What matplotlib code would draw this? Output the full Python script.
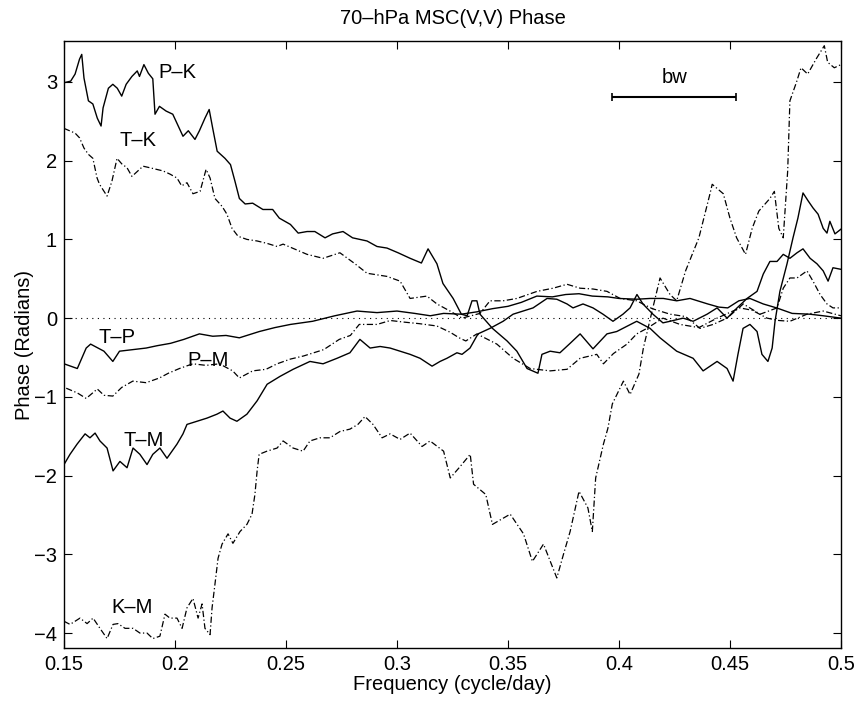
import numpy as np
import matplotlib
matplotlib.use("Agg")
import matplotlib.pyplot as plt

plt.rcParams['font.family'] = ['Liberation Sans', 'DejaVu Sans']

# phase spectra (frequency, radians) for each pair
f_pk = [0.15, 0.153, 0.155, 0.157, 0.158, 0.159, 0.161, 0.163, 0.165, 0.1667, 0.1676, 0.17, 0.172, 0.174,
        0.176, 0.178, 0.1806, 0.183, 0.184, 0.186, 0.188, 0.19, 0.191, 0.193, 0.196, 0.199, 0.2036, 0.206,
        0.209, 0.211, 0.2135, 0.2154, 0.217, 0.219, 0.2225, 0.225, 0.227, 0.229, 0.2316, 0.235, 0.2396,
        0.244, 0.247, 0.252, 0.2555, 0.2595, 0.263, 0.2676, 0.271, 0.2757, 0.28, 0.2865, 0.291, 0.2955,
        0.3005, 0.3059, 0.311, 0.314, 0.318, 0.3207, 0.3253, 0.329, 0.3316, 0.3338, 0.336, 0.3374, 0.343,
        0.3496, 0.354, 0.3586, 0.3635, 0.3653, 0.369, 0.3734, 0.378, 0.3825, 0.3883, 0.3946, 0.399, 0.408,
        0.414, 0.4185, 0.426, 0.4334, 0.4379, 0.4442, 0.4487, 0.4514, 0.4536, 0.4559, 0.459, 0.4622,
        0.4644, 0.4671, 0.469, 0.4703, 0.4725, 0.4757, 0.4784, 0.4806, 0.4829, 0.4852, 0.4874, 0.4897,
        0.492, 0.4937, 0.495, 0.4973, 0.5]
p_pk = [2.99, 3.01, 3.1, 3.29, 3.35, 3.05, 2.76, 2.72, 2.54, 2.44, 2.67, 2.92, 2.97, 2.92,
        2.82, 2.97, 3.07, 3.14, 3.07, 3.22, 3.11, 3.04, 2.59, 2.69, 2.63, 2.59, 2.31, 2.38,
        2.27, 2.38, 2.54, 2.65, 2.41, 2.12, 2.03, 1.95, 1.74, 1.52, 1.45, 1.46, 1.38,
        1.38, 1.27, 1.19, 1.08, 1.1, 1.1, 1.02, 1.07, 1.1, 1.02, 0.98, 0.91, 0.89,
        0.83, 0.76, 0.7, 0.88, 0.69, 0.44, 0.25, 0.05, 0.03, 0.22, 0.22, 0.05, -0.13,
        -0.29, -0.42, -0.64, -0.7, -0.46, -0.42, -0.44, -0.32, -0.2, -0.39, -0.2, -0.17, -0.04,
        -0.13, -0.25, -0.42, -0.51, -0.67, -0.55, -0.64, -0.8, -0.46, -0.13, -0.08, -0.17,
        -0.46, -0.55, -0.38, -0.04, 0.34, 0.69, 1.02, 1.27, 1.59, 1.49, 1.4, 1.32,
        1.14, 1.08, 1.23, 1.07, 1.13]

f_tk = [0.15, 0.155, 0.157, 0.159, 0.161, 0.163, 0.1649, 0.166, 0.1694, 0.1716, 0.1739, 0.176, 0.1784,
        0.1806, 0.1856, 0.1887, 0.1946, 0.1977, 0.2009, 0.203, 0.2054, 0.2081, 0.2113, 0.214, 0.2158,
        0.218, 0.2212, 0.2234, 0.2257, 0.2284, 0.2324, 0.237, 0.2414, 0.246, 0.2487, 0.2595, 0.2667,
        0.2743, 0.2811, 0.2865, 0.2955, 0.3014, 0.3059, 0.3135, 0.318, 0.3239, 0.3293, 0.3374, 0.3419,
        0.3478, 0.354, 0.3631, 0.3703, 0.3766, 0.3825, 0.3883, 0.3946, 0.4005, 0.408, 0.415, 0.423,
        0.43, 0.4365, 0.4424, 0.4487, 0.456, 0.4636, 0.4712, 0.474, 0.477, 0.4802, 0.4847, 0.4874,
        0.4906, 0.4937, 0.4964, 0.5]
p_tk = [2.41, 2.35, 2.29, 2.16, 2.08, 2.03, 1.78, 1.7, 1.55, 1.74, 2.03, 1.96, 1.91,
        1.8, 1.93, 1.91, 1.87, 1.83, 1.78, 1.68, 1.72, 1.58, 1.61, 1.89, 1.78,
        1.52, 1.42, 1.32, 1.14, 1.04, 1.0, 0.98, 0.95, 0.91, 0.94, 0.81, 0.76,
        0.83, 0.69, 0.57, 0.53, 0.47, 0.25, 0.28, 0.18, 0.09, 0.0, 0.06, 0.22,
        0.22, 0.25, 0.34, 0.38, 0.43, 0.38, 0.37, 0.34, 0.25, 0.22, 0.12, 0.05,
        0.02, -0.13, -0.08, 0.0, 0.18, 0.05, 0.13, 0.38, 0.51, 0.51, 0.6, 0.47,
        0.3, 0.18, 0.13, 0.13]

f_tp = [0.15, 0.156, 0.16, 0.162, 0.168, 0.172, 0.175, 0.181, 0.187, 0.192, 0.198, 0.204, 0.211, 0.217,
        0.223, 0.229, 0.238, 0.245, 0.252, 0.262, 0.272, 0.282, 0.291, 0.3, 0.308, 0.315, 0.321, 0.329,
        0.336, 0.343, 0.35, 0.356, 0.363, 0.37, 0.376, 0.382, 0.388, 0.395, 0.4, 0.408, 0.414, 0.42,
        0.426, 0.432, 0.44, 0.445, 0.449, 0.454, 0.459, 0.465, 0.471, 0.478, 0.486, 0.492, 0.5]
p_tp = [-0.58, -0.64, -0.38, -0.33, -0.42, -0.55, -0.42, -0.4, -0.38, -0.35, -0.32, -0.27, -0.2, -0.23,
        -0.22, -0.25, -0.17, -0.12, -0.08, -0.04, 0.03, 0.09, 0.07, 0.09, 0.06, 0.03, 0.06, 0.05,
        0.08, 0.12, 0.15, 0.2, 0.28, 0.27, 0.3, 0.31, 0.28, 0.27, 0.25, 0.24, 0.25, 0.25,
        0.22, 0.25, 0.18, 0.14, 0.13, 0.22, 0.25, 0.18, 0.13, 0.06, 0.05, 0.03, 0.0]

f_pm = [0.151, 0.156, 0.16, 0.165, 0.168, 0.172, 0.176, 0.181, 0.187, 0.193, 0.197, 0.202, 0.208, 0.214,
        0.22, 0.226, 0.229, 0.235, 0.241, 0.246, 0.252, 0.258, 0.267, 0.274, 0.279, 0.283, 0.291, 0.297,
        0.303, 0.31, 0.318, 0.324, 0.328, 0.331, 0.336, 0.345, 0.3523, 0.36, 0.369, 0.3766, 0.3825,
        0.39, 0.393, 0.3975, 0.4036, 0.408, 0.4126, 0.4198, 0.4275, 0.436, 0.4442, 0.4545, 0.46, 0.4667,
        0.472, 0.477, 0.4847, 0.492, 0.5]
p_pm = [-0.89, -0.95, -1.02, -0.9, -0.98, -0.99, -0.88, -0.8, -0.82, -0.76, -0.7, -0.64, -0.58, -0.6,
        -0.58, -0.67, -0.76, -0.67, -0.65, -0.58, -0.52, -0.48, -0.4, -0.27, -0.22, -0.08, -0.08, -0.03,
        -0.05, -0.07, -0.1, -0.18, -0.25, -0.29, -0.2, -0.33, -0.51, -0.64, -0.67, -0.65, -0.51,
        -0.46, -0.58, -0.45, -0.33, -0.2, -0.13, 0.0, -0.08, -0.12, 0.0, 0.13, 0.1, 0.0,
        -0.03, -0.04, 0.05, 0.09, 0.03]

f_tm = [0.15, 0.1527, 0.1559, 0.1595, 0.1617, 0.164, 0.1662, 0.1694, 0.1721, 0.1752, 0.1784, 0.1811,
        0.1842, 0.1874, 0.19, 0.1932, 0.1964, 0.2009, 0.2036, 0.2054, 0.2099, 0.2144, 0.2189, 0.2216,
        0.2248, 0.2279, 0.2324, 0.237, 0.2415, 0.2473, 0.2532, 0.2608, 0.2667, 0.273, 0.2788, 0.2833,
        0.2879, 0.2924, 0.2969, 0.3014, 0.3059, 0.3104, 0.3158, 0.3194, 0.3225, 0.327, 0.3293, 0.3329,
        0.3365, 0.3419, 0.3478, 0.3523, 0.3568, 0.3613, 0.3676, 0.372, 0.3766, 0.3793, 0.3838, 0.3883,
        0.3928, 0.3973, 0.4018, 0.405, 0.4081, 0.4108, 0.4153, 0.4198, 0.423, 0.4289, 0.4334, 0.4397,
        0.4442, 0.4487, 0.4532, 0.4577, 0.4622, 0.465, 0.468, 0.4712, 0.474, 0.477, 0.4802, 0.4829,
        0.4861, 0.4892, 0.492, 0.4942, 0.4964, 0.5]
p_tm = [-1.86, -1.73, -1.6, -1.47, -1.52, -1.46, -1.56, -1.65, -1.94, -1.82, -1.9, -1.65,
        -1.73, -1.86, -1.73, -1.65, -1.78, -1.6, -1.47, -1.35, -1.31, -1.27, -1.22, -1.18,
        -1.27, -1.31, -1.22, -1.05, -0.84, -0.74, -0.65, -0.55, -0.58, -0.51, -0.44, -0.27,
        -0.38, -0.36, -0.38, -0.42, -0.46, -0.51, -0.61, -0.55, -0.51, -0.44, -0.46, -0.38,
        -0.2, -0.13, -0.04, 0.05, 0.09, 0.13, 0.25, 0.24, 0.18, 0.13, 0.18, 0.13,
        0.05, -0.04, 0.05, 0.13, 0.3, 0.18, 0.05, -0.06, -0.04, 0.0, -0.04, 0.05,
        0.13, 0.0, 0.13, 0.25, 0.34, 0.56, 0.72, 0.72, 0.81, 0.76, 0.83, 0.88,
        0.76, 0.69, 0.6, 0.47, 0.64, 0.62]

f_km = [0.15, 0.1527, 0.155, 0.1572, 0.1604, 0.1631, 0.1662, 0.1694, 0.1721, 0.1743, 0.1775, 0.1811,
        0.1842, 0.1874, 0.19, 0.1932, 0.1955, 0.1977, 0.2009, 0.2032, 0.2054, 0.2081, 0.2104, 0.2122,
        0.2135, 0.2158, 0.2167, 0.218, 0.2194, 0.2212, 0.2239, 0.2261, 0.2293, 0.2324, 0.2347, 0.236,
        0.237, 0.2379, 0.2414, 0.246, 0.2487, 0.2532, 0.2577, 0.2608, 0.2653, 0.2698, 0.2743, 0.2788,
        0.2824, 0.2856, 0.2892, 0.2933, 0.2969, 0.3014, 0.3059, 0.3113, 0.3149, 0.321, 0.324, 0.328,
        0.333, 0.3345, 0.34, 0.343, 0.351, 0.357, 0.361, 0.366, 0.372, 0.375, 0.378, 0.382, 0.386,
        0.388, 0.3895, 0.393, 0.395, 0.397, 0.402, 0.405, 0.409, 0.411, 0.415, 0.4185, 0.423, 0.426,
        0.43, 0.436, 0.441, 0.442, 0.447, 0.45, 0.453, 0.457, 0.46, 0.463, 0.468, 0.47, 0.472, 0.474,
        0.476, 0.477, 0.48, 0.482, 0.485, 0.489, 0.4925, 0.494, 0.497, 0.5]
p_km = [-3.85, -3.89, -3.85, -3.81, -3.88, -3.81, -3.94, -4.07, -3.89, -3.88, -3.94, -3.94,
        -4.0, -4.0, -4.07, -4.04, -3.76, -3.81, -3.81, -3.94, -3.68, -3.56, -3.81, -3.63,
        -3.94, -4.02, -3.68, -3.38, -3.05, -2.87, -2.74, -2.86, -2.71, -2.62, -2.49, -2.24,
        -1.94, -1.73, -1.69, -1.65, -1.56, -1.65, -1.69, -1.56, -1.52, -1.52, -1.44, -1.41,
        -1.35, -1.25, -1.35, -1.52, -1.47, -1.54, -1.46, -1.63, -1.56, -1.69, -2.03, -1.9,
        -1.73, -2.11, -2.24, -2.62, -2.49, -2.74, -3.09, -2.87, -3.3, -3.0, -2.71, -2.2, -2.41,
        -2.71, -2.03, -1.6, -1.4, -1.09, -0.8, -0.97, -0.71, -0.38, 0.1, 0.51, 0.3, 0.22,
        0.6, 1.02, 1.58, 1.7, 1.58, 1.27, 1.02, 0.81, 1.14, 1.36, 1.52, 1.61, 1.14, 1.02,
        1.87, 2.76, 3.0, 3.18, 3.1, 3.3, 3.46, 3.25, 3.18, 3.22]

# curve names and where they are written
pair_names = ['P–K', 'T–K', 'T–P', 'P–M', 'T–M', 'K–M']
name_x = [0.1925, 0.175, 0.1655, 0.2055, 0.177, 0.1715]
name_y = [3.12, 2.26, -0.25, -0.54, -1.55, -3.67]

# bandwidth bar
bw_lo, bw_hi, bw_y = 0.397, 0.4527, 2.81

fs = 14.5

fig = plt.figure(figsize=(8.59, 7.02), dpi=100)
ax = fig.add_axes([0.0745, 0.0769, 0.9045, 0.8647])

dashdot = (0, (5, 2, 1, 2))
ax.plot(f_pk, p_pk, color='k', lw=1.0)
ax.plot(f_tk, p_tk, color='k', lw=0.9, linestyle=dashdot)
ax.plot(f_tp, p_tp, color='k', lw=1.0)
ax.plot(f_pm, p_pm, color='k', lw=0.9, linestyle=dashdot)
ax.plot(f_tm, p_tm, color='k', lw=1.0)
ax.plot(f_km, p_km, color='k', lw=0.9, linestyle=dashdot)

ax.axhline(0, color='k', lw=0.8, linestyle=(0, (1, 4)))

for name, x, y in zip(pair_names, name_x, name_y):
    ax.text(x, y, name, fontsize=fs, ha='left', va='center')

ax.errorbar((bw_lo + bw_hi) / 2, bw_y, xerr=(bw_hi - bw_lo) / 2, color='k',
            lw=1.5, capsize=3, capthick=1.2)
ax.text((bw_lo + bw_hi) / 2, bw_y + 0.12, 'bw', fontsize=fs, ha='center', va='bottom')

ax.set_xlim(0.15, 0.5)
ax.set_ylim(-4.19, 3.52)
ax.set_xticks([0.15, 0.2, 0.25, 0.3, 0.35, 0.4, 0.45, 0.5])
ax.set_xticklabels(['0.15', '0.2', '0.25', '0.3', '0.35', '0.4', '0.45', '0.5'])
ax.set_yticks([-4, -3, -2, -1, 0, 1, 2, 3])
ax.set_yticklabels(['−4', '−3', '−2', '−1', '0', '1', '2', '3'])
ax.tick_params(direction='in', top=True, right=True, length=6, labelsize=fs, pad=5)
for s in ax.spines.values():
    s.set_linewidth(1.0)

ax.set_xlabel('Frequency (cycle/day)', fontsize=fs, labelpad=1)
ax.set_ylabel('Phase (Radians)', fontsize=fs, labelpad=0)
ax.set_title('70–hPa MSC(V,V) Phase', fontsize=fs, pad=12)

fig.savefig('out.png', dpi=100)
